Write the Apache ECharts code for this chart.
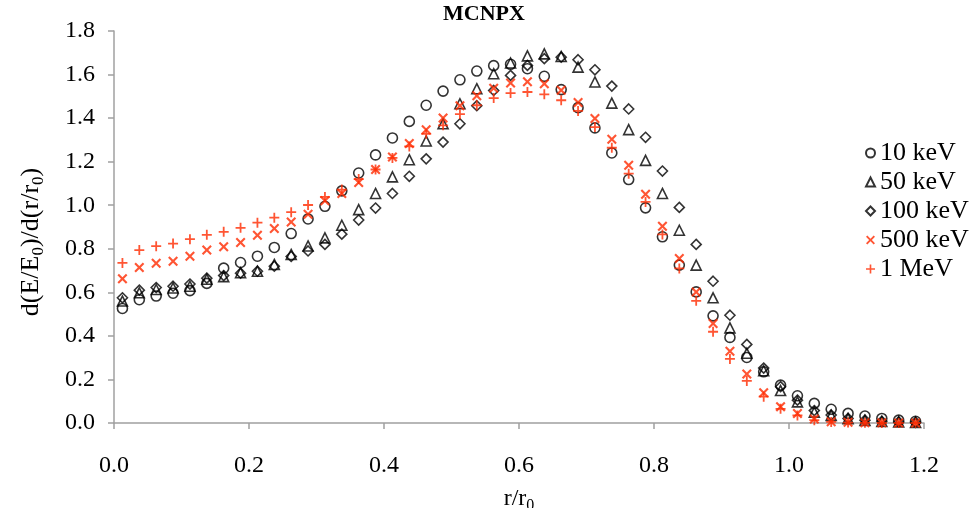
<!DOCTYPE html>
<html>
<head>
<meta charset="utf-8">
<script src="https://cdn.jsdelivr.net/npm/echarts@6/dist/echarts.min.js"></script>
<style>html,body{margin:0;padding:0;background:#fff}#c{width:970px;height:508px}</style>
</head>
<body>
<div id="c"></div>
<script>
const rValues = [0.0125,0.0375,0.0625,0.0875,0.1125,0.1375,0.1625,0.1875,0.2125,0.2375,0.2625,0.2875,0.3125,0.3375,0.3625,0.3875,0.4125,0.4375,0.4625,0.4875,0.5125,0.5375,0.5625,0.5875,0.6125,0.6375,0.6625,0.6875,0.7125,0.7375,0.7625,0.7875,0.8125,0.8375,0.8625,0.8875,0.9125,0.9375,0.9625,0.9875,1.0125,1.0375,1.0625,1.0875,1.1125,1.1375,1.1625,1.1875];
const kev10 = [0.526,0.566,0.583,0.596,0.608,0.641,0.711,0.737,0.766,0.806,0.870,0.937,0.995,1.066,1.148,1.231,1.309,1.385,1.459,1.524,1.576,1.616,1.641,1.647,1.627,1.592,1.531,1.448,1.355,1.240,1.118,0.988,0.855,0.725,0.602,0.492,0.393,0.301,0.235,0.174,0.125,0.090,0.063,0.044,0.032,0.021,0.013,0.008];
const kev50 = [0.560,0.598,0.613,0.620,0.628,0.660,0.672,0.690,0.697,0.728,0.774,0.813,0.850,0.908,0.980,1.054,1.130,1.209,1.295,1.374,1.466,1.535,1.604,1.653,1.686,1.695,1.683,1.634,1.566,1.469,1.347,1.206,1.054,0.885,0.725,0.575,0.437,0.320,0.240,0.149,0.097,0.050,0.035,0.020,0.012,0.007,0.005,0.003];
const kev100 = [0.575,0.610,0.622,0.628,0.638,0.665,0.677,0.688,0.697,0.720,0.765,0.790,0.820,0.867,0.932,0.987,1.054,1.133,1.213,1.290,1.374,1.457,1.527,1.596,1.642,1.673,1.680,1.668,1.622,1.547,1.442,1.312,1.157,0.990,0.820,0.651,0.495,0.361,0.252,0.167,0.105,0.057,0.037,0.021,0.013,0.008,0.005,0.003];
const kev500 = [0.662,0.714,0.733,0.743,0.766,0.794,0.809,0.829,0.862,0.893,0.923,0.959,1.020,1.054,1.104,1.164,1.222,1.283,1.347,1.401,1.457,1.503,1.537,1.561,1.567,1.558,1.528,1.472,1.398,1.303,1.183,1.050,0.904,0.755,0.602,0.457,0.330,0.225,0.139,0.075,0.044,0.018,0.006,0.003,0.001,0.001,0.000,0.000];
const mev1 = [0.735,0.794,0.812,0.824,0.844,0.864,0.878,0.896,0.920,0.943,0.968,1.001,1.038,1.072,1.120,1.164,1.217,1.270,1.328,1.367,1.418,1.459,1.492,1.515,1.520,1.509,1.482,1.433,1.359,1.264,1.145,1.015,0.866,0.710,0.561,0.419,0.294,0.193,0.121,0.065,0.035,0.013,0.005,0.002,0.001,0.000,0.000,0.000];
const seriesNames = ['10 keV','50 keV','100 keV','500 keV','1 MeV'];
const chartTitle = 'MCNPX';
const xName = 'r/r{sub|0}';
const yName = 'd(E/E{sub|0})/d(r/r{sub|0})';

const FONT = 'Liberation Serif';
const RED = '#ff2a00';
const pairs = arr => arr.map((v, i) => [rValues[i], v]);
const XPATH = 'path://M0,1.5L1.5,0L5,3.5L8.5,0L10,1.5L6.5,5L10,8.5L8.5,10L5,6.5L1.5,10L0,8.5L3.5,5Z';
const PPATH = 'path://M4.1,0H5.9V4.1H10V5.9H5.9V10H4.1V5.9H0V4.1H4.1Z';

const hollow = (name, data, symbol, size) => ({
  name, type: 'scatter', data: pairs(data), symbol, symbolSize: size,
  itemStyle: { color: 'rgba(0,0,0,0)', borderColor: '#000', borderWidth: 1.6 },
  emphasis: { disabled: true }
});
const solid = (name, data, symbol, size) => ({
  name, type: 'scatter', data: pairs(data), symbol, symbolSize: size,
  itemStyle: { color: RED }, emphasis: { disabled: true }
});
const subRich = { sub: { fontFamily: FONT, fontSize: 16, padding: [14, 0, 0, 0] } };
const subRichY = { sub: { fontFamily: FONT, fontSize: 17, padding: [15, 0, 0, 0] } };

const chart = echarts.init(document.getElementById('c'), null, { renderer: 'canvas' });
chart.setOption({
  animation: false,
  backgroundColor: '#fff',
  title: {
    text: chartTitle, left: 484, top: 3, padding: 0, textAlign: 'center',
    textStyle: { fontFamily: FONT, fontWeight: 'bold', fontSize: 22, color: '#000' }
  },
  legend: {
    orient: 'vertical', left: 860, top: 135,
    itemWidth: 9, itemHeight: 9, itemGap: 3,
    data: seriesNames,
    textStyle: { fontFamily: FONT, fontSize: 26, color: '#000', lineHeight: 26, padding: [0, 0, 0, 0] }
  },
  graphic: [{
    type: 'text', x: 31, y: 242, rotation: Math.PI / 2,
    style: {
      text: yName, fill: '#000', font: '26px "Liberation Serif"',
      align: 'center', verticalAlign: 'middle', rich: subRichY
    }
  }],
  grid: { left: 114, right: 46, top: 31, bottom: 85, containLabel: false, outerBoundsMode: 'none' },
  xAxis: {
    type: 'value', min: 0, max: 1.2, interval: 0.2,
    name: xName, nameLocation: 'middle', nameGap: 61,
    nameTextStyle: { fontFamily: FONT, fontSize: 24, color: '#000', rich: subRich },
    axisLine: { lineStyle: { color: '#a0a0a0', width: 1.5 } },
    axisTick: { show: true, inside: false, length: 6, lineStyle: { color: '#a0a0a0', width: 1.5 } },
    splitLine: { show: false },
    axisLabel: { fontFamily: FONT, fontSize: 24, color: '#000', margin: 31, formatter: v => v.toFixed(1) }
  },
  yAxis: {
    type: 'value', min: 0, max: 1.8, interval: 0.2,
    axisLine: { show: true, lineStyle: { color: '#a0a0a0', width: 1.5 } },
    axisTick: { show: true, inside: false, length: 6, lineStyle: { color: '#a0a0a0', width: 1.5 } },
    splitLine: { show: false },
    axisLabel: { fontFamily: FONT, fontSize: 24, color: '#000', margin: 19, padding: [6, 0, 0, 0], formatter: v => v.toFixed(1) }
  },
  series: [
    hollow(seriesNames[0], kev10, 'circle', 10),
    hollow(seriesNames[1], kev50, 'triangle', 10),
    hollow(seriesNames[2], kev100, 'diamond', 10),
    solid(seriesNames[3], kev500, XPATH, 10),
    solid(seriesNames[4], mev1, PPATH, 10)
  ]
});
</script>
</body>
</html>
